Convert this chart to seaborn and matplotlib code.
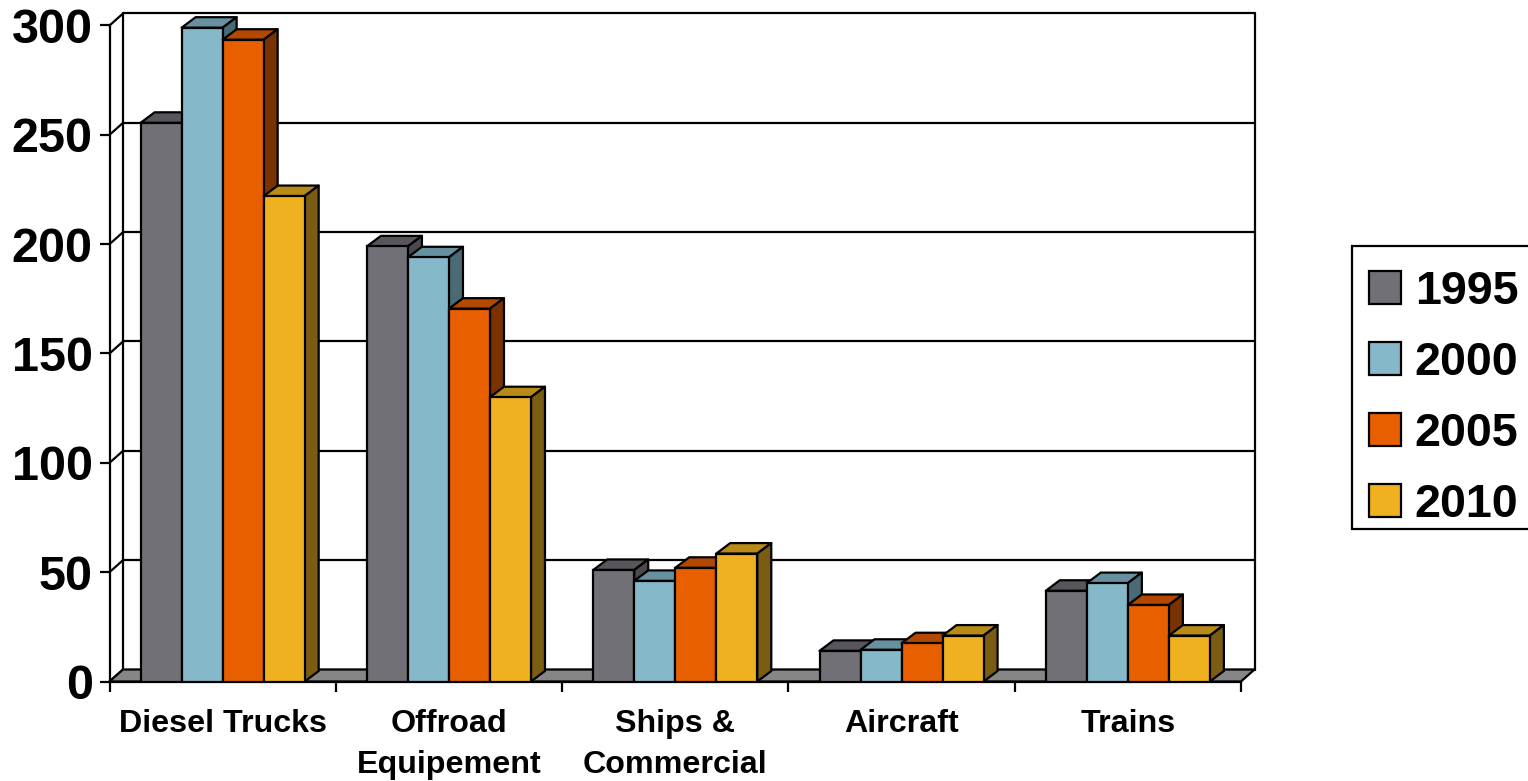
import matplotlib
matplotlib.use("Agg")
import matplotlib.pyplot as plt
from matplotlib.patches import Polygon, Rectangle
from matplotlib.transforms import IdentityTransform
import numpy as np
import pandas as pd
import seaborn as sns

categories = ["Diesel Trucks", "Offroad\nEquipement", "Ships &\nCommercial", "Aircraft", "Trains"]
years = ["1995", "2000", "2005", "2010"]
values_1995 = [255.5, 199, 51, 14, 41.5]
values_2000 = [299, 194, 46, 14.5, 45]
values_2005 = [293.5, 170.5, 52, 17.5, 35]
values_2010 = [222, 130, 58.5, 21, 21]
y_ticks = [0, 50, 100, 150, 200, 250, 300]

front_colors = ["#727077", "#85B8C9", "#E85F00", "#EFB120"]
top_colors = ["#58565C", "#67919F", "#B34900", "#B88A18"]
side_colors = ["#4A494E", "#4A6B76", "#7A3200", "#7A5C12"]

WALL_DEPTH = (13.5, 12)  # pixel offset of the back wall
BAR_DEPTH = (14, 10.5)   # pixel offset of a bar's rear face
EDGE = 1.6

sns.set_theme(style="white")
plt.rcParams["font.family"] = ["Liberation Sans", "DejaVu Sans"]
plt.rcParams["font.weight"] = "bold"

frame = pd.DataFrame({
    "category": np.tile(categories, len(years)),
    "year": np.repeat(years, len(categories)),
    "value": values_1995 + values_2000 + values_2005 + values_2010,
})

fig = plt.figure(figsize=(15.28, 7.81), dpi=100)
ax = fig.add_axes([109.5 / 1528, (781 - 681.5) / 781, 1131.5 / 1528, 656 / 781])

sns.barplot(data=frame, x="category", y="value", hue="year", order=categories,
            hue_order=years, palette=front_colors, width=0.725, gap=0,
            saturation=1, edgecolor="black", linewidth=EDGE, ax=ax)
ax.set_xlim(-0.5, len(categories) - 0.5)
ax.set_ylim(0, 300)
ax.set_xlabel("")
ax.set_ylabel("")
ax.patch.set_alpha(0)
fig.canvas.draw()


def to_px(x, y, depth=None):
    px, py = ax.transData.transform((x, y))
    return (px + depth[0], py + depth[1]) if depth else (px, py)


def face(corners, color, zorder):
    ax.add_patch(Polygon([to_px(*c) for c in corners], closed=True, facecolor=color,
                         edgecolor="black", linewidth=EDGE, joinstyle="round",
                         transform=IdentityTransform(), clip_on=False, zorder=zorder))


def line(a, b, zorder=1):
    pa, pb = to_px(*a), to_px(*b)
    ax.plot([pa[0], pb[0]], [pa[1], pb[1]], color="black", lw=EDGE,
            transform=IdentityTransform(), clip_on=False, zorder=zorder,
            solid_capstyle="round")


x_lo, x_hi = ax.get_xlim()

# Back wall, its gridlines and the slanted lines across the left wall
for tick in y_ticks:
    line((x_lo, tick, WALL_DEPTH), (x_hi, tick, WALL_DEPTH))
    line((x_lo, tick), (x_lo, tick, WALL_DEPTH))
line((x_lo, 0, WALL_DEPTH), (x_lo, 300, WALL_DEPTH))
line((x_hi, 0, WALL_DEPTH), (x_hi, 300, WALL_DEPTH))

# Grey floor
face([(x_lo, 0), (x_lo, 0, WALL_DEPTH), (x_hi, 0, WALL_DEPTH), (x_hi, 0)], "#868686", 2)

# Top and side faces for every bar, stacked so neighbours overlap left to right
for k, container in enumerate(ax.containers):
    for bar in container:
        bar.set_zorder(3.5 + k)
        x0, w, h = bar.get_x(), bar.get_width(), bar.get_height()
        face([(x0, h), (x0, h, BAR_DEPTH), (x0 + w, h, BAR_DEPTH), (x0 + w, h)], top_colors[k], 3 + k)
        face([(x0 + w, 0), (x0 + w, 0, BAR_DEPTH), (x0 + w, h, BAR_DEPTH), (x0 + w, h)], side_colors[k], 3 + k)

# Axes: ticks on the category boundaries, labels centred between them
sns.despine(ax=ax, top=True, right=True)
for side in ("left", "bottom"):
    ax.spines[side].set_color("black")
    ax.spines[side].set_linewidth(EDGE)
ax.set_yticks(y_ticks)
ax.set_xticks(np.arange(x_lo, x_hi + 0.5))
ax.set_xticklabels([])
ax.set_xticks(range(len(categories)), minor=True)
ax.set_xticklabels(categories, minor=True, fontsize=23.2, fontweight="bold",
                   linespacing=1.48, va="top")
ax.tick_params(axis="x", which="major", bottom=True, length=7.5, width=EDGE, color="black")
ax.tick_params(axis="x", which="minor", bottom=False, length=0, pad=19.5, labelcolor="black")
ax.tick_params(axis="y", left=True, length=7.5, width=EDGE, color="black", labelsize=35,
               pad=4.5, labelcolor="black")
for label in ax.get_yticklabels():
    label.set_fontweight("bold")

# Legend box runs off the right edge of the figure
fig.add_artist(Rectangle((1352 / 1528, 1 - 529 / 781), 190 / 1528, 283 / 781,
                         transform=fig.transFigure, facecolor="white", edgecolor="black",
                         linewidth=EDGE, clip_on=False, zorder=4))
handles, labels = ax.get_legend_handles_labels()
ax.get_legend().remove()
legend = fig.legend(handles, labels, loc="upper left",
                    bbox_to_anchor=(1349 / 1528, 1 - 250 / 781), bbox_transform=fig.transFigure,
                    prop={"size": 33.6, "weight": "bold"}, labelcolor="black", frameon=False,
                    handlelength=0.7, handleheight=0.7, handletextpad=0.29,
                    labelspacing=0.58, borderpad=0.42, borderaxespad=0)
legend.set_zorder(5)

fig.savefig("out.png", dpi=100)
